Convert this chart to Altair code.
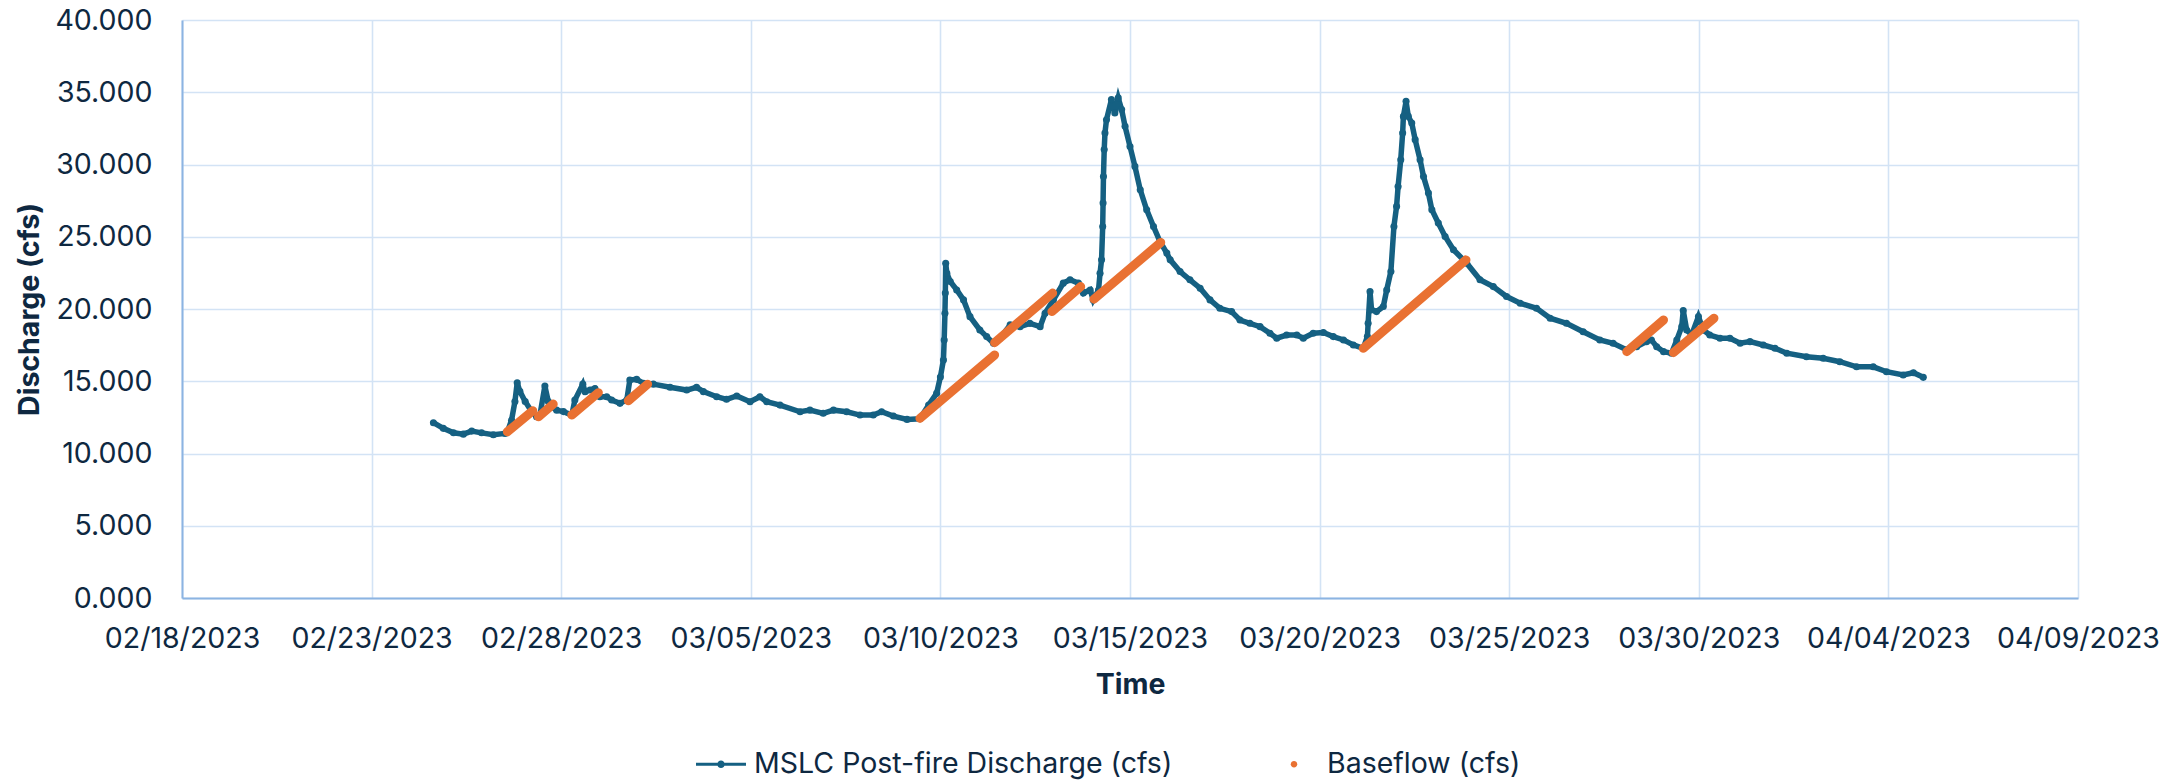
import altair as alt
import pandas as pd

# ---- data (day offsets are days since 2023-02-18 00:00) ----
main_day = [
    6.63, 6.89, 7.16, 7.42, 7.64, 7.90, 8.21, 8.52, 8.58, 8.69, 8.78, 8.84, 8.91, 9.05, 9.22, 9.35,
    9.44, 9.57, 9.66, 9.75, 9.88, 10.06, 10.28, 10.36, 10.57, 10.63, 10.76, 10.89, 11.02, 11.20,
    11.33, 11.55, 11.73, 11.81, 11.99, 12.17, 12.43, 12.87, 13.31, 13.57, 13.75, 14.10, 14.36,
    14.63, 14.98, 15.24, 15.42, 15.77, 16.30, 16.56, 16.91, 17.18, 17.53, 17.88, 18.23, 18.45,
    18.76, 19.12, 19.46, 19.69, 19.90, 20.00, 20.08, 20.10, 20.12, 20.13, 20.14, 20.17, 20.26,
    20.43, 20.61, 20.78, 21.04, 21.22, 21.40, 21.57, 21.84, 22.10, 22.36, 22.63, 22.76, 22.98,
    23.24, 23.42, 23.64, 23.77, 23.95, 24.03, 24.17, 24.21, 24.25, 24.28, 24.29, 24.30, 24.32,
    24.34, 24.38, 24.51, 24.60, 24.69, 24.78, 24.87, 25.00, 25.13, 25.27, 25.44, 25.62, 25.79,
    25.97, 26.06, 26.32, 26.58, 26.85, 27.11, 27.37, 27.68, 27.90, 28.16, 28.43, 28.69, 28.87,
    29.13, 29.40, 29.57, 29.83, 30.10, 30.36, 30.63, 30.89, 31.15, 31.26, 31.28, 31.33, 31.37,
    31.50, 31.68, 31.77, 31.88, 31.96, 32.03, 32.07, 32.14, 32.19, 32.21, 32.28, 32.34, 32.43,
    32.52, 32.65, 32.74, 32.87, 32.96, 33.13, 33.31, 33.53, 33.88, 34.23, 34.58, 34.93, 35.29,
    35.72, 36.08, 36.51, 36.95, 37.39, 37.74, 38.10, 38.36, 38.62, 38.75, 38.89, 39.07, 39.28,
    39.42, 39.55, 39.59, 39.68, 39.81, 39.99, 40.12, 40.29, 40.56, 40.82, 41.09, 41.35, 41.70,
    42.01, 42.32, 42.84, 43.28, 43.72, 44.16, 44.60, 44.95, 45.39, 45.66, 45.92,
]
main_cfs = [
    12.13, 11.74, 11.43, 11.34, 11.55, 11.43, 11.30, 11.39, 11.50, 12.30, 13.60, 14.90, 14.30, 13.60, 12.90, 12.55,
    12.66, 14.67, 13.60, 13.24, 13.00, 12.90, 12.66, 13.70, 14.80, 14.28, 14.40, 14.50, 13.93, 13.93,
    13.70, 13.47, 13.70, 15.09, 15.13, 14.86, 14.80, 14.58, 14.39, 14.58, 14.28, 13.93, 13.75,
    13.98, 13.58, 13.93, 13.58, 13.35, 12.89, 13.00, 12.78, 13.00, 12.89, 12.66, 12.66, 12.89,
    12.59, 12.36, 12.40, 13.35, 14.16, 15.30, 16.47, 17.86, 19.71, 21.10, 23.17, 22.48, 21.90,
    21.32, 20.63, 19.47, 18.55, 18.09, 17.63, 17.98, 18.90, 18.78, 19.01, 18.78, 19.71, 20.63,
    21.79, 22.02, 21.79, 21.10, 21.32, 20.63, 21.32, 22.48, 23.40, 25.71, 27.33, 29.17, 31.03,
    32.18, 33.10, 34.49, 33.57, 34.61, 33.80, 32.64, 31.25, 29.87, 28.25, 26.87, 25.71, 24.67,
    23.87, 23.40, 22.59, 22.02, 21.44, 20.63, 20.05, 19.82, 19.24, 19.01, 18.78, 18.32, 17.98,
    18.20, 18.20, 17.98, 18.32, 18.37, 18.09, 17.86, 17.51, 17.28, 18.09, 19.01, 21.20, 19.94,
    19.82, 20.17, 21.32, 22.60, 25.71, 27.10, 28.48, 30.33, 32.18, 33.33, 34.37, 33.33, 32.87,
    31.72, 30.33, 29.17, 28.02, 26.87, 25.95, 25.02, 24.10, 23.17, 22.02, 21.55, 20.86, 20.40,
    20.05, 19.36, 19.01, 18.43, 17.86, 17.63, 17.17, 17.39, 17.74, 17.86, 17.39, 17.05, 16.94,
    17.86, 18.78, 19.89, 18.55, 18.20, 19.47, 18.55, 18.20, 17.98, 17.98, 17.63, 17.74, 17.51,
    17.28, 16.94, 16.70, 16.59, 16.35, 16.00, 16.00, 15.66, 15.43, 15.59, 15.27,
]

base_start_day = [8.58, 9.40, 10.28, 11.77, 19.46, 21.43, 22.94, 24.05, 31.15, 38.10, 39.33]
base_start_cfs = [11.50, 12.54, 12.66, 13.65, 12.43, 17.67, 19.82, 20.68, 17.28, 17.05, 16.98]
base_end_day = [9.25, 9.79, 10.98, 12.28, 21.43, 22.96, 23.70, 25.81, 33.86, 39.07, 40.40]
base_end_cfs = [12.96, 13.42, 14.21, 14.80, 16.82, 21.10, 21.55, 24.60, 23.40, 19.24, 19.36]

x_tick_dates = ["2023-02-18", "2023-02-23", "2023-02-28", "2023-03-05", "2023-03-10", "2023-03-15",
                "2023-03-20", "2023-03-25", "2023-03-30", "2023-04-04", "2023-04-09"]
y_ticks = [0, 5, 10, 15, 20, 25, 30, 35, 40]

MAIN_NAME = "MSLC Post-fire Discharge (cfs)"
BASE_NAME = "Baseflow (cfs)"
MAIN_COLOR = "#156082"
BASE_COLOR = "#E97132"
TEXT_COLOR = "#0E2841"
FONT = "Inter"
FS = 28.5

# ---- tables ----
t0 = pd.Timestamp("2023-02-18")
def ts(d):
    return (t0 + pd.to_timedelta(d, unit="D")).strftime("%Y-%m-%dT%H:%M:%SZ")

main_df = pd.DataFrame({"time": [ts(d) for d in main_day], "cfs": main_cfs})
rows = []
for i in range(len(base_start_day)):
    rows.append({"time": ts(base_start_day[i]), "cfs": base_start_cfs[i], "seg": i})
    rows.append({"time": ts(base_end_day[i]), "cfs": base_end_cfs[i], "seg": i})
base_df = pd.DataFrame(rows)
legend_df = pd.DataFrame({"series": [MAIN_NAME, BASE_NAME]})

def dt(s):
    p = pd.Timestamp(s)
    return alt.DateTime(year=p.year, month=p.month, date=p.day, utc=True)

x_enc = alt.X(
    "time:T",
    scale=alt.Scale(type="utc", domain=[dt(x_tick_dates[0]), dt(x_tick_dates[-1])]),
    axis=alt.Axis(values=[dt(s) for s in x_tick_dates], format="%m/%d/%Y",
                  labelFlush=False, labelOverlap=False,
                  title="Time", labelPadding=26, titlePadding=18),
)
y_enc = alt.Y(
    "cfs:Q",
    scale=alt.Scale(domain=[0, 40], nice=False, zero=True),
    axis=alt.Axis(values=y_ticks, format=".3f", title="Discharge (cfs)", labelPadding=30,
                  labelFlush=False, labelOverlap=False, titlePadding=10),
)

main_line = alt.Chart(main_df).mark_line(color=MAIN_COLOR, strokeWidth=5.5).encode(x=x_enc, y=y_enc)
main_pts = alt.Chart(main_df).mark_point(color=MAIN_COLOR, filled=True, size=50, opacity=1).encode(x=x_enc, y=y_enc)
base_line = alt.Chart(base_df).mark_line(color=BASE_COLOR, strokeWidth=9, strokeCap="round").encode(
    x=x_enc, y=y_enc, detail="seg:N")

line_dot = ("M-1,-0.06L1,-0.06L1,0.06L-1,0.06Z "
            "M-0.15,0A0.15,0.15 0 1,1 0.15,0A0.15,0.15 0 1,1 -0.15,0Z")
dot = "M-0.13,0A0.13,0.13 0 1,1 0.13,0A0.13,0.13 0 1,1 -0.13,0Z"

legend_layer = alt.Chart(legend_df).mark_point(filled=True, opacity=1).encode(
    color=alt.Color("series:N", scale=alt.Scale(domain=[MAIN_NAME, BASE_NAME], range=[MAIN_COLOR, BASE_COLOR]),
                    legend=alt.Legend(title=None, orient="none", direction="horizontal",
                                      legendX=514, legendY=719, symbolSize=2500,
                                      symbolStrokeWidth=0, labelFontSize=FS, labelFont=FONT,
                                      labelColor=TEXT_COLOR, columnPadding=96, labelOffset=8,
                                      labelLimit=1000, symbolOpacity=1)),
    shape=alt.Shape("series:N", scale=alt.Scale(domain=[MAIN_NAME, BASE_NAME], range=[line_dot, dot])),
).transform_filter("false")

chart = alt.layer(main_line, main_pts, base_line, legend_layer).properties(
    width=1896, height=578,
    background="white",
    autosize=alt.AutoSizeParams(type="none"),
    padding={"left": 182, "top": 20, "right": 105, "bottom": 184},
).configure_view(stroke=None).configure_axis(
    labelFont=FONT, labelFontSize=FS, labelColor=TEXT_COLOR,
    titleFont=FONT, titleFontSize=FS, titleFontWeight="bold", titleColor=TEXT_COLOR,
    domainColor="#8CB4E2", domainWidth=2, gridColor="#D3E3F5", gridWidth=1.6, ticks=False,
)

chart.save("out.html", embed_options={"renderer": "svg", "actions": False})
